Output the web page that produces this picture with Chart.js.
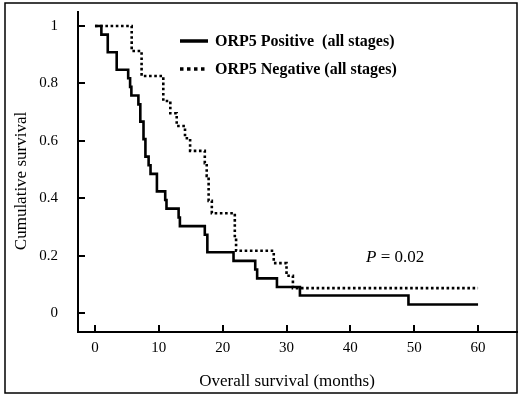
<!DOCTYPE html>
<html>
<head>
<meta charset="utf-8">
<script src="https://cdn.jsdelivr.net/npm/chart.js@4.4.1/dist/chart.umd.min.js"></script>
<style>
  body { margin: 0; background: #fff; }
  #wrap { width: 518px; height: 394px; }
</style>
</head>
<body>
<div id="wrap"><canvas id="survival" width="518" height="394"></canvas></div>
<script>
// Kaplan-Meier steps: survival value after each event time (months)
const positiveMonths = [0, 1.0, 2.0, 3.4, 5.2, 5.5, 5.7, 6.8, 7.1, 7.6, 7.9, 8.4, 8.7, 9.7, 11.0, 11.2, 13.1, 13.3, 17.2, 17.6, 21.7, 25.1, 25.4, 28.5, 32.1, 49.1, 60];
const positiveSurvival = [1, 0.970, 0.909, 0.848, 0.818, 0.788, 0.758, 0.727, 0.667, 0.606, 0.545, 0.515, 0.485, 0.424, 0.394, 0.364, 0.333, 0.303, 0.273, 0.212, 0.182, 0.152, 0.121, 0.091, 0.061, 0.030, 0.030];

const negativeMonths = [0, 5.75, 7.3, 10.7, 11.8, 12.8, 14.1, 14.9, 17.2, 17.5, 17.8, 18.3, 21.9, 22.1, 28.0, 30.0, 31.0, 60];
const negativeSurvival = [1, 0.913, 0.826, 0.739, 0.696, 0.652, 0.609, 0.565, 0.522, 0.478, 0.391, 0.348, 0.261, 0.217, 0.174, 0.130, 0.087, 0.087];

const seriesLabels = ['ORP5 Positive  (all stages)', 'ORP5 Negative (all stages)'];
const monthTicks = [0, 10, 20, 30, 40, 50, 60];
const survivalTicks = [0, 0.2, 0.4, 0.6, 0.8, 1];
const xTitle = 'Overall survival (months)';
const yTitle = 'Cumulative survival';
const pValue = '0.02';

const SERIF = '"Liberation Serif", "Times New Roman", serif';

const toPoints = (months, survival) => months.map((m, i) => ({ x: m, y: survival[i] }));

const frame = {
  id: 'frame',
  afterDraw(chart) {
    const { ctx } = chart;
    ctx.save();
    ctx.strokeStyle = '#000';
    ctx.lineWidth = 1.5;
    ctx.strokeRect(5, 3, 512, 390);
    ctx.restore();
  },
};

// short tick marks pointing into the plot
const innerTicks = {
  id: 'innerTicks',
  afterDraw(chart) {
    const { ctx, chartArea, scales: { x, y } } = chart;
    ctx.save();
    ctx.strokeStyle = '#000';
    ctx.lineWidth = 2;
    ctx.beginPath();
    monthTicks.forEach((v) => {
      const px = Math.round(x.getPixelForValue(v));
      ctx.moveTo(px, chartArea.bottom);
      ctx.lineTo(px, chartArea.bottom - 7);
    });
    survivalTicks.forEach((v) => {
      const py = Math.round(y.getPixelForValue(v));
      ctx.moveTo(chartArea.left, py);
      ctx.lineTo(chartArea.left + 7, py);
    });
    ctx.stroke();
    ctx.restore();
  },
};

const legendBox = {
  id: 'legendBox',
  afterDraw(chart) {
    const { ctx } = chart;
    const rows = [41, 69];
    ctx.save();
    chart.data.datasets.forEach((ds, i) => {
      ctx.strokeStyle = ds.borderColor;
      ctx.lineWidth = 3.5;
      ctx.setLineDash(ds.borderDash.length ? [3.5, 3.5] : []);
      ctx.beginPath();
      ctx.moveTo(180, rows[i]);
      ctx.lineTo(208, rows[i]);
      ctx.stroke();
      ctx.setLineDash([]);
      ctx.fillStyle = '#000';
      ctx.font = `bold 16px ${SERIF}`;
      ctx.textBaseline = 'middle';
      ctx.fillText(ds.label, 215, rows[i] + 1);
    });
    ctx.restore();
  },
};

const titles = {
  id: 'titles',
  afterDraw(chart) {
    const { ctx } = chart;
    ctx.save();
    ctx.fillStyle = '#000';
    ctx.font = `17px ${SERIF}`;
    ctx.textAlign = 'center';
    ctx.textBaseline = 'middle';
    ctx.fillText(xTitle, 287, 382);

    ctx.translate(22, 181);
    ctx.rotate(-Math.PI / 2);
    ctx.fillText(yTitle, 0, 0);
    ctx.restore();

    // P value note
    ctx.save();
    ctx.fillStyle = '#000';
    ctx.textBaseline = 'middle';
    ctx.font = `italic 17px ${SERIF}`;
    ctx.fillText('P', 366, 258);
    const pw = ctx.measureText('P').width;
    ctx.font = `17px ${SERIF}`;
    ctx.fillText(` = ${pValue}`, 366 + pw, 258);
    ctx.restore();
  },
};

const axisStyle = (size, padding, ticks, fitKey, fitValue) => ({
  type: 'linear',
  afterBuildTicks: (scale) => { scale.ticks = ticks.map((value) => ({ value })); },
  afterFit: (scale) => {
    scale[fitKey] = fitValue;
    // keep the plot box fixed by the layout padding only
    scale.paddingTop = 0;
    scale.paddingBottom = 0;
    scale.paddingLeft = 0;
    scale.paddingRight = 0;
  },
  grid: { display: false, drawTicks: false },
  border: { display: true, width: 2, color: '#000' },
  ticks: {
    color: '#000',
    font: { family: SERIF, size },
    padding,
    maxRotation: 0,
    autoSkip: false,
    callback: (value) => `${Number(value.toFixed(1))}`,
  },
});

new Chart(document.getElementById('survival'), {
  type: 'line',
  data: {
    datasets: [
      {
        label: seriesLabels[0],
        data: toPoints(positiveMonths, positiveSurvival),
        borderColor: '#000',
        borderWidth: 2.6,
        borderDash: [],
        stepped: 'before',
        pointRadius: 0,
      },
      {
        label: seriesLabels[1],
        data: toPoints(negativeMonths, negativeSurvival),
        borderColor: '#000',
        borderWidth: 2.6,
        borderDash: [2.6, 2.6],
        stepped: 'before',
        pointRadius: 0,
      },
    ],
  },
  options: {
    responsive: false,
    animation: false,
    layout: { padding: { left: 0, right: 1, top: 12, bottom: 0 } },
    plugins: {
      legend: { display: false },
      tooltip: { enabled: false },
    },
    scales: {
      x: { ...axisStyle(15, 7, monthTicks, 'height', 62), min: -2.66, max: 66.1 },
      y: { ...axisStyle(15, 20, survivalTicks, 'width', 78), min: -0.066, max: 1.049 },
    },
  },
  plugins: [frame, innerTicks, legendBox, titles],
});
</script>
</body>
</html>
